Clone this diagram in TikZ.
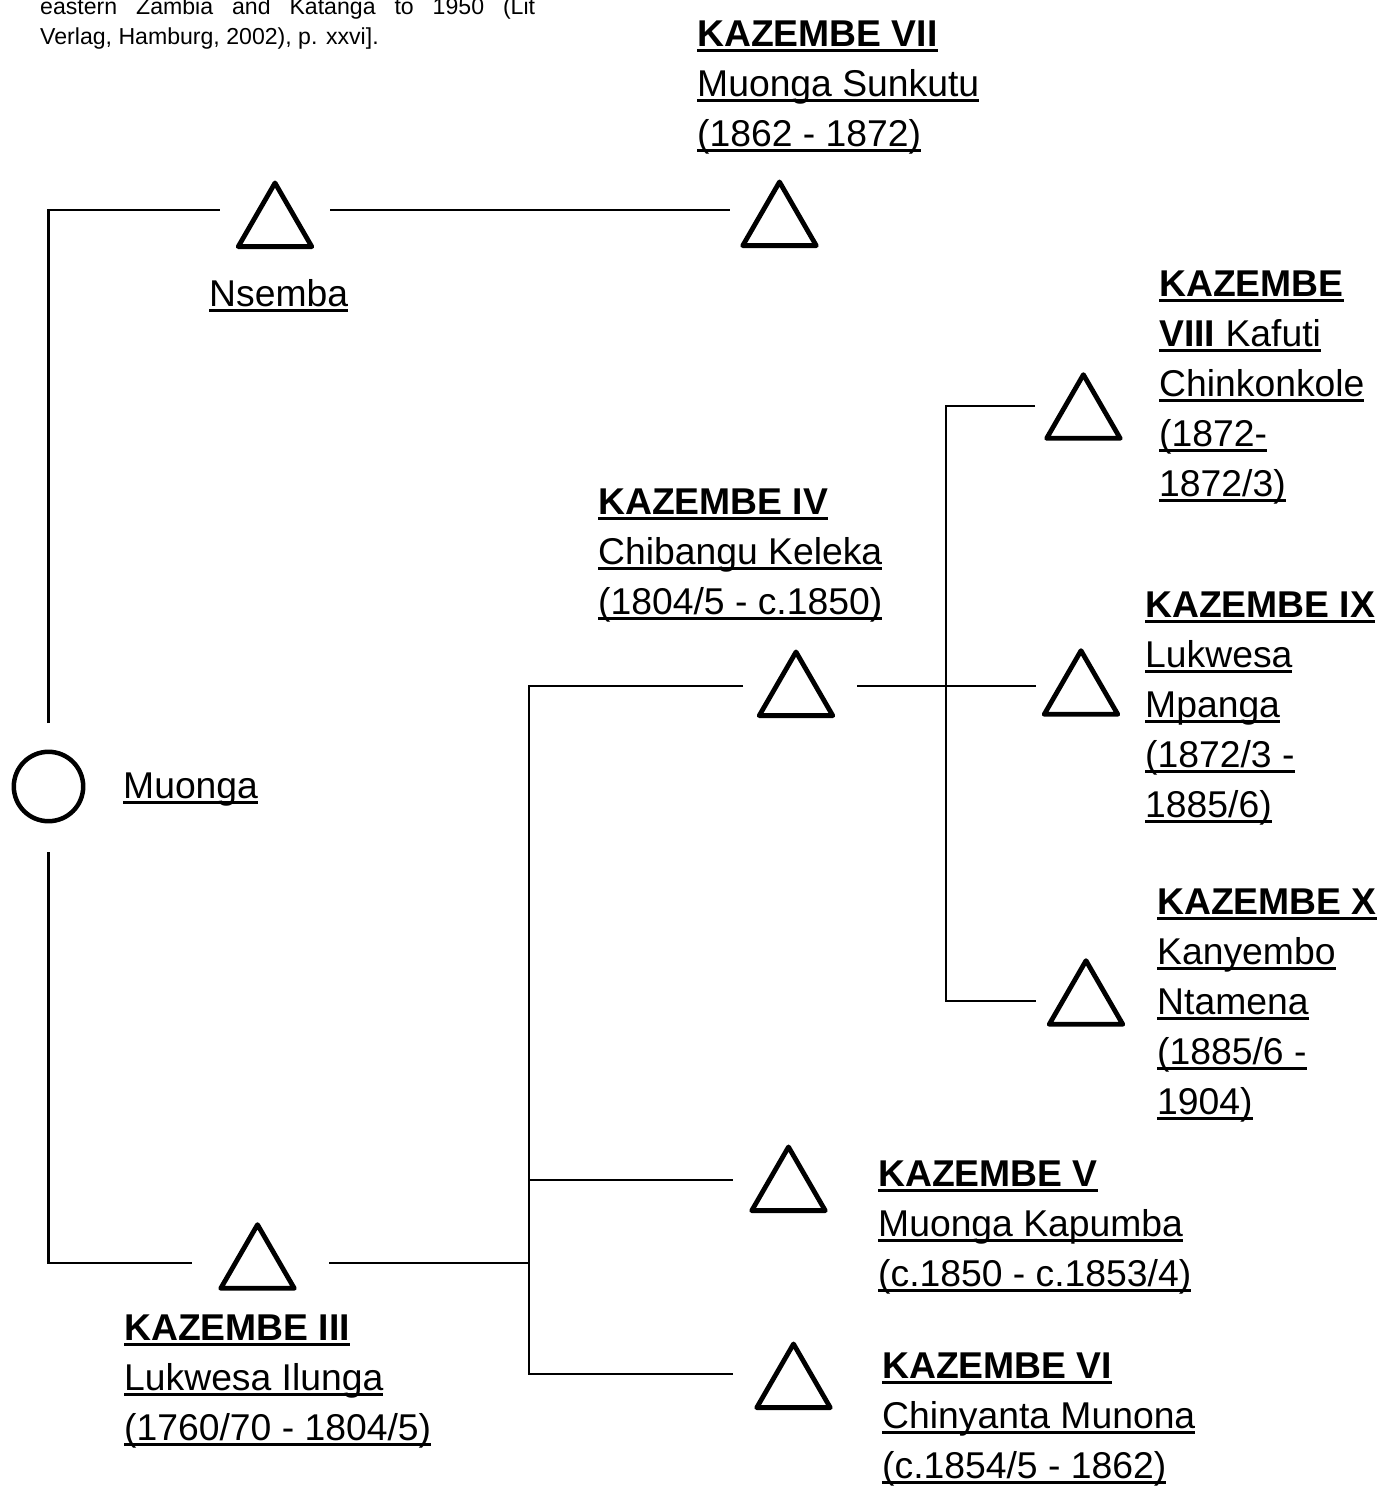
\documentclass[tikz,border=0pt]{standalone}
\usepackage{fontspec}
\setmainfont{Liberation Sans}
\usetikzlibrary{shapes.geometric}
\newcommand\ulx[1]{\setbox0=\hbox{#1}\rlap{\rule[-6pt]{\wd0}{3pt}}\box0}
\begin{document}
\begin{tikzpicture}[x=1pt,y=-1pt,
  lbl/.style={anchor=base west, inner sep=0pt, font=\fontsize{37.3}{50}\selectfont},
  note/.style={anchor=base west, inner sep=0pt, font=\fontsize{23.1}{30}\selectfont},
  tri/.style={draw, regular polygon, regular polygon sides=3, minimum size=84.9pt, inner sep=0pt, line width=4.8pt, line join=round},
  fem/.style={draw, circle, minimum size=69.4pt, inner sep=0pt, line width=4.5pt},
  conn/.style={line width=2.8pt}]
\useasboundingbox[fill=white] (0,0) rectangle (1380,1486);

% source note (cropped at top)
\node[note] (src1) at (40,14) {\makebox[495pt][s]{eastern Zambia and Katanga to 1950 (Lit}};
\node[note] (src2) at (40,44) {Verlag, Hamburg, 2002), p. xxvi].};

% persons
\node[fem] (muonga) at (48.5,786.5) {};
\node[tri] (nsemba) at (275,225.4) {};
\node[tri] (k7) at (779.5,224.4) {};
\node[tri] (k3) at (257.5,1267.1) {};
\node[tri] (k4) at (796,694.4) {};
\node[tri] (k5) at (788.5,1189.4) {};
\node[tri] (k6) at (793.5,1386.4) {};
\node[tri] (k8) at (1083.4,417.1) {};
\node[tri] (k9) at (1081,693.1) {};
\node[tri] (k10) at (1086,1003.1) {};

% labels
\node[lbl] (muongaL) at (123,798) {\ulx{Muonga}};
\node[lbl] (nsembaL) at (209,306) {\ulx{Nsemba}};

\node[lbl] (k7a) at (697,46) {\ulx{\textbf{KAZEMBE VII}}};
\node[lbl] (k7b) at (697,96) {\ulx{Muonga Sunkutu}};
\node[lbl] (k7c) at (697,146) {\ulx{(1862 - 1872)}};

\node[lbl] (k4a) at (598,514) {\ulx{\textbf{KAZEMBE IV}}};
\node[lbl] (k4b) at (598,564) {\ulx{Chibangu Keleka}};
\node[lbl] (k4c) at (598,614) {\ulx{(1804/5 - c.1850)}};

\node[lbl] (k8a) at (1159,296) {\ulx{\textbf{KAZEMBE}}};
\node[lbl] (k8b) at (1159,346) {\ulx{\textbf{VIII} Kafuti}};
\node[lbl] (k8c) at (1159,396) {\ulx{Chinkonkole}};
\node[lbl] (k8d) at (1159,446) {\ulx{(1872-}};
\node[lbl] (k8e) at (1159,496) {\ulx{1872/3)}};

\node[lbl] (k9a) at (1145,617) {\ulx{\textbf{KAZEMBE IX}}};
\node[lbl] (k9b) at (1145,667) {\ulx{Lukwesa}};
\node[lbl] (k9c) at (1145,717) {\ulx{Mpanga}};
\node[lbl] (k9d) at (1145,767) {\ulx{(1872/3 -}};
\node[lbl] (k9e) at (1145,817) {\ulx{1885/6)}};

\node[lbl] (k10a) at (1157,914) {\ulx{\textbf{KAZEMBE X}}};
\node[lbl] (k10b) at (1157,964) {\ulx{Kanyembo}};
\node[lbl] (k10c) at (1157,1014) {\ulx{Ntamena}};
\node[lbl] (k10d) at (1157,1064) {\ulx{(1885/6 -}};
\node[lbl] (k10e) at (1157,1114) {\ulx{1904)}};

\node[lbl] (k5a) at (878,1186) {\ulx{\textbf{KAZEMBE V}}};
\node[lbl] (k5b) at (878,1236) {\ulx{Muonga Kapumba}};
\node[lbl] (k5c) at (878,1286) {\ulx{(c.1850 - c.1853/4)}};

\node[lbl] (k6a) at (882,1378) {\ulx{\textbf{KAZEMBE VI}}};
\node[lbl] (k6b) at (882,1428) {\ulx{Chinyanta Munona}};
\node[lbl] (k6c) at (882,1478) {\ulx{(c.1854/5 - 1862)}};

\node[lbl] (k3a) at (124,1340) {\ulx{\textbf{KAZEMBE III}}};
\node[lbl] (k3b) at (124,1390) {\ulx{Lukwesa Ilunga}};
\node[lbl] (k3c) at (124,1440) {\ulx{(1760/70 - 1804/5)}};

% connector end points
\coordinate (muTop) at (48.5,723);
\coordinate (muBot) at (48.5,852);
\coordinate (nsIn) at (220,210);
\coordinate (nsOut) at (330,210);
\coordinate (k7In) at (730,210);
\coordinate (k3In) at (192,1263);
\coordinate (k3Out) at (329,1263);
\coordinate (sibJ) at (529,1263);
\coordinate (k4In) at (743,686);
\coordinate (k5In) at (733,1180);
\coordinate (k6In) at (733,1374);
\coordinate (k4Out) at (857,686);
\coordinate (k8In) at (1035,406);
\coordinate (k9In) at (1036,686);
\coordinate (k10In) at (1036,1001);
\coordinate (sib2J) at (946,686);

% connectors
\draw[conn] (muTop) |- (nsIn);
\draw[conn] (nsOut) -- (k7In);
\draw[conn] (muBot) |- (k3In);
\draw[conn] (k3Out) -- (sibJ);
\draw[conn] (k4In) -| (sibJ) |- (k6In);
\draw[conn] (sibJ |- k5In) -- (k5In);
\draw[conn] (k4Out) -- (k9In);
\draw[conn] (k8In) -| (sib2J) |- (k10In);
\end{tikzpicture}
\end{document}
